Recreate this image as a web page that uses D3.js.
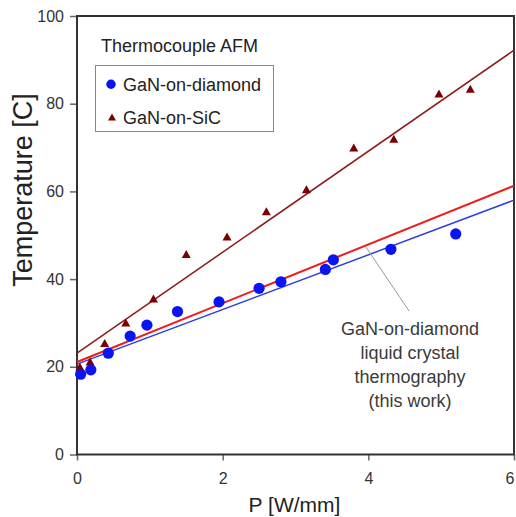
<!DOCTYPE html>
<html><head><meta charset="utf-8">
<script src="https://cdn.jsdelivr.net/npm/d3@7"></script>
<style>html,body{margin:0;padding:0;background:#fff;}svg{display:block;}</style>
</head><body>
<script>
// Data
const xTicks = [0, 2, 4, 6];
const yTicks = [0, 20, 40, 60, 80, 100];
const diamondP = [0.05, 0.19, 0.43, 0.73, 0.96, 1.38, 1.95, 2.50, 2.80, 3.41, 3.52, 4.31, 5.20];
const diamondT = [18.3, 19.3, 23.1, 27.0, 29.5, 32.6, 34.8, 37.9, 39.4, 42.2, 44.4, 46.8, 50.3];
const sicP = [0.04, 0.18, 0.38, 0.67, 1.05, 1.50, 2.06, 2.60, 3.15, 3.80, 4.35, 4.97, 5.40];
const sicT = [20.0, 21.2, 25.4, 30.1, 35.6, 45.7, 49.7, 55.5, 60.5, 70.0, 72.0, 82.3, 83.4];
const fitSiC = [[0, 23.1], [6, 92.2]];
const fitLC = [[0, 21.1], [6, 61.3]];
const fitDiamond = [[0, 20.6], [6, 58.0]];
const pointer = [[3.96, 47.5], [4.56, 32.7]];
const annotation = ["GaN-on-diamond", "liquid crystal", "thermography", "(this work)"];
const legendTitle = "Thermocouple AFM";
const legendLabels = ["GaN-on-diamond", "GaN-on-SiC"];

const W = 516, H = 517;
const m = {left: 77, top: 16, right: 2, bottom: 62.5};
const svg = d3.select("body").append("svg").attr("width", W).attr("height", H)
  .style("font-family", "'Liberation Sans', Arial, sans-serif");

const x = d3.scaleLinear().domain([0, 6]).range([m.left, W - m.right]);
const y = d3.scaleLinear().domain([0, 100]).range([H - m.bottom, m.top]);

const axisCol = "#333";
// axes
const xAxis = svg.append("g").attr("transform", `translate(0,${y(0)})`)
  .call(d3.axisBottom(x).tickValues(xTicks).tickFormat(d3.format("d")).tickSize(6).tickPadding(12));
const yAxis = svg.append("g").attr("transform", `translate(${x(0)},0)`)
  .call(d3.axisLeft(y).tickValues(yTicks).tickFormat(d3.format("d")).tickSize(7).tickPadding(6));
[xAxis, yAxis].forEach(g => {
  g.select(".domain").remove();
  g.selectAll(".tick line").attr("stroke", "#666").attr("stroke-width", 1.5);
  g.selectAll(".tick text").attr("fill", "#333").style("font-size", "16px")
    .style("font-family", "'Liberation Sans', Arial, sans-serif");
});
// keep the last x tick label inside the window
xAxis.selectAll(".tick text").filter(d => d === 6).attr("text-anchor", "end").attr("dx", "0px");

// frame
svg.append("rect").attr("x", x(0)).attr("y", y(100))
  .attr("width", x(6) - x(0)).attr("height", y(0) - y(100))
  .attr("fill", "none").attr("stroke", axisCol).attr("stroke-width", 2);

const line = d3.line().x(d => x(d[0])).y(d => y(d[1]));
svg.append("path").datum(fitSiC).attr("d", line).attr("stroke", "#8b1a1a").attr("stroke-width", 1.5).attr("fill", "none");
svg.append("path").datum(fitDiamond).attr("d", line).attr("stroke", "#2e3fe0").attr("stroke-width", 1.5).attr("fill", "none");
svg.append("path").datum(fitLC).attr("d", line).attr("stroke", "#f01c1c").attr("stroke-width", 2).attr("fill", "none");
svg.append("path").datum(pointer).attr("d", line).attr("stroke", "#999").attr("stroke-width", 1).attr("fill", "none");

// markers
const tri = (w, h) => `M0,${-h/2}L${w/2},${h/2}L${-w/2},${h/2}Z`;
svg.append("g").selectAll("path").data(sicP).join("path")
  .attr("d", tri(9, 8))
  .attr("transform", (d, i) => `translate(${x(d)},${y(sicT[i])})`)
  .attr("fill", "#7a0000");
svg.append("g").selectAll("circle").data(diamondP).join("circle")
  .attr("cx", d => x(d)).attr("cy", (d, i) => y(diamondT[i])).attr("r", 5.6)
  .attr("fill", "#0a14f0");

// legend
svg.append("text").attr("x", 101).attr("y", 51.5).text(legendTitle)
  .style("font-size", "18px").attr("fill", "#222");
svg.append("rect").attr("x", 95.5).attr("y", 65.5).attr("width", 178).attr("height", 66)
  .attr("fill", "#fff").attr("stroke", "#888").attr("stroke-width", 1);
svg.append("circle").attr("cx", 111).attr("cy", 84.3).attr("r", 4.7).attr("fill", "#0a14f0");
svg.append("path").attr("d", tri(8, 7)).attr("transform", "translate(112,117)").attr("fill", "#7a0000");
svg.selectAll(".leg").data(legendLabels).join("text").attr("class", "leg")
  .attr("x", 123).attr("y", (d, i) => 91 + i * 32.5).text(d => d)
  .style("font-size", "18px").attr("fill", "#222");

// annotation
svg.selectAll(".ann").data(annotation).join("text").attr("class", "ann")
  .attr("x", 410).attr("y", (d, i) => 335 + i * 24).attr("text-anchor", "middle")
  .text(d => d).style("font-size", "18px").attr("fill", "#3a3a3a");

// axis titles
svg.append("text").attr("x", x(3) - 1).attr("y", 512).attr("text-anchor", "middle")
  .text("P [W/mm]").style("font-size", "21px").attr("fill", "#222");
svg.append("text").attr("transform", "translate(32,190) rotate(-90)").attr("text-anchor", "middle")
  .text("Temperature [C]").style("font-size", "27px").attr("fill", "#222");
</script>
</body></html>
